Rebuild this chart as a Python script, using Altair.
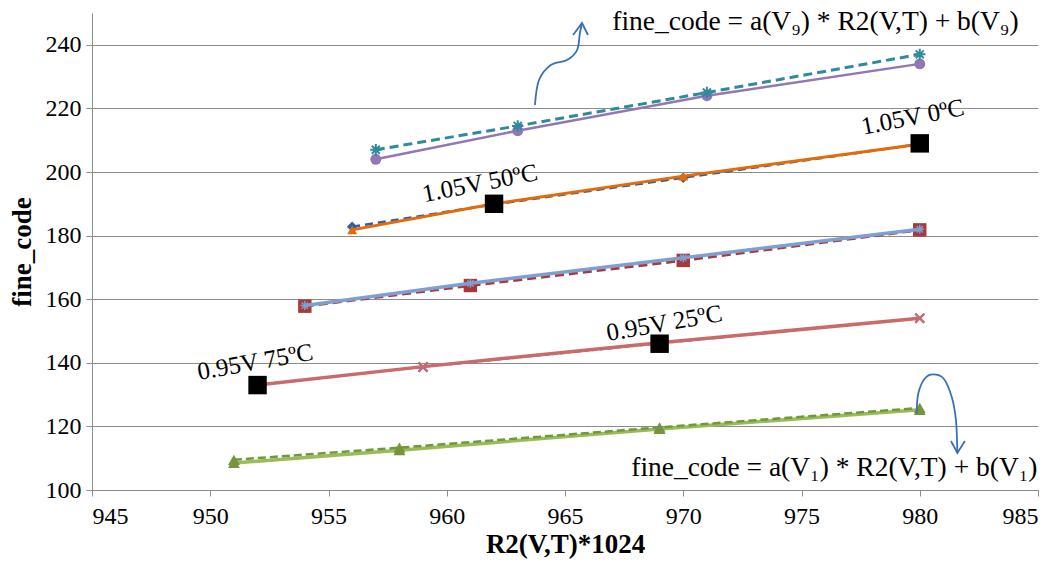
import altair as alt
import pandas as pd

# ---------------- data ----------------
X_TICKS = [945, 950, 955, 960, 965, 970, 975, 980, 985]
Y_TICKS = [100, 120, 140, 160, 180, 200, 220, 240]

x_v9 = [957, 963, 971, 980]
y_v9_dash = [207.0, 214.5, 225.0, 237.0]
y_v9_solid = [204.0, 213.0, 224.0, 234.0]

x_105 = [956, 962, 970, 980]
y_105_dash = [182.8, 189.8, 198.2, 208.8]
y_105_solid = [181.8, 190.0, 198.7, 208.7]

x_mid = [954, 961, 970, 980]
y_mid_dash = [157.8, 164.3, 172.2, 181.8]
y_mid_solid = [158.0, 165.0, 173.0, 182.0]

x_095 = [952, 959, 969, 980]
y_095_solid = [133.0, 138.8, 146.3, 154.0]
y_095_dash = [133.2, 138.6, 146.0, 154.0]

x_v1 = [951, 958, 969, 980]
y_v1_dash = [109.5, 113.3, 119.7, 125.8]
y_v1_solid = [108.5, 112.5, 119.2, 125.2]

cond_x = [952, 962, 969, 980]
cond_y = [133, 190, 146, 209]
cond_labels = ["0.95V 75ºC", "1.05V 50ºC", "0.95V 25ºC", "1.05V 0ºC"]
cond_label_x = [951.9, 961.4, 969.2, 979.7]
cond_label_y = [140.3, 196.5, 152.5, 217.3]

formula_top = "fine_code = a(V₉) * R2(V,T) + b(V₉)"
formula_bottom = "fine_code = a(V₁) * R2(V,T) + b(V₁)"
formula_x = [967.0, 967.8]
formula_y = [247.2, 106.9]

arrow1_x = [963.73, 963.90, 964.40, 965.08, 965.51, 965.63, 965.72]
arrow1_y = [221.07, 228.93, 233.65, 235.20, 238.36, 243.71, 246.86]
arrow1_head_x = [965.34, 965.72, 965.97]
arrow1_head_y = [243.08, 246.86, 243.08]

arrow2_x = [979.87, 979.94, 980.22, 980.57, 981.0, 981.35, 981.53, 981.59]
arrow2_y = [124.12, 130.41, 135.13, 136.38, 135.13, 129.34, 122.01, 111.64]
arrow2_head_x = [981.32, 981.59, 981.91]
arrow2_head_y = [115.41, 111.64, 115.41]

# ---------------- encodings ----------------
SERIF = "Liberation Serif"
GRAY = "#8c8c8c"

x_scale = alt.Scale(domain=[945, 985], nice=False, zero=False)
y_scale = alt.Scale(domain=[100, 250], nice=False, zero=False)

x_enc = alt.X("x:Q", scale=x_scale, axis=alt.Axis(
    title="R2(V,T)*1024", values=X_TICKS, grid=False, format="d",
    labelPadding=8, titlePadding=3))
y_enc = alt.Y("y:Q", scale=y_scale, axis=alt.Axis(
    title="fine_code", values=Y_TICKS, grid=True, format="d",
    labelPadding=5, titlePadding=9))

ASTERISK = "M-1,0L1,0M0,-1L0,1M-0.7,-0.7L0.7,0.7M-0.7,0.7L0.7,-0.7"
XMARK = "M-1,-1L1,1M-1,1L1,-1"


def df(xs, ys):
    return pd.DataFrame({"x": xs, "y": ys})


def series(xs, ys, color, width, dash=None, shape="circle", size=60,
           filled=True, mcolor=None, mwidth=2):
    d = df(xs, ys)
    line_kwargs = dict(color=color, strokeWidth=width)
    if dash:
        line_kwargs["strokeDash"] = dash
    line = alt.Chart(d).mark_line(**line_kwargs).encode(x=x_enc, y=y_enc)
    mc = mcolor or color
    if filled:
        pt = alt.Chart(d).mark_point(shape=shape, size=size, filled=True,
                                     color=mc, opacity=1)
    else:
        pt = alt.Chart(d).mark_point(shape=shape, size=size, filled=False,
                                     color=mc, strokeWidth=mwidth, opacity=1)
    pts = pt.encode(x=x_enc, y=y_enc)
    return [line, pts]


layers = []
# V9 group
layers += series(x_v9, y_v9_solid, "#9178b3", 2.5, shape="circle", size=120)
layers += series(x_v9, y_v9_dash, "#2e8a9c", 3, dash=[9, 5], shape=ASTERISK,
                 size=130, filled=False, mwidth=2)
# 1.05V group
layers += series(x_105, y_105_dash, "#2f5fa0", 2.5, dash=[8, 5],
                 shape="diamond", size=110)
layers += series(x_105, y_105_solid, "#e36c0a", 3, shape="triangle-up",
                 size=100)
# middle group
layers += series(x_mid, y_mid_dash, "#a8383a", 3, dash=[9, 5],
                 shape="square", size=180)
layers += series(x_mid, y_mid_solid, "#7f9fd0", 3.5, shape=ASTERISK, size=80,
                 filled=False, mwidth=1.5)
# 0.95V group
layers += series(x_095, y_095_dash, "#6a5aa8", 1.5, dash=[5, 3], shape=XMARK,
                 size=80, filled=False, mwidth=2)
layers += series(x_095, y_095_solid, "#c96b6b", 3.5, shape=XMARK, size=80,
                 filled=False, mwidth=2)
# V1 group
layers += series(x_v1, y_v1_solid, "#9bbb59", 3.5, shape="triangle-up",
                 size=140, mcolor="#77933c")
layers += series(x_v1, y_v1_dash, "#6e9a3a", 2.5, dash=[8, 4],
                 shape="triangle-up", size=140, mcolor="#77933c")

# condition markers (black squares)
cond_df = pd.DataFrame({"x": cond_x, "y": cond_y})
layers.append(alt.Chart(cond_df).mark_square(size=340, color="black",
                                               opacity=1).encode(x=x_enc, y=y_enc))

# condition labels (slanted)
angles = [350, 349, 350, 349]
for lx, ly, txt, ang in zip(cond_label_x, cond_label_y, cond_labels, angles):
    layers.append(alt.Chart(pd.DataFrame({"x": [lx], "y": [ly], "t": [txt]}))
                  .mark_text(font=SERIF, fontSize=25, angle=ang, color="black",
                             align="center", baseline="middle")
                  .encode(x=x_enc, y=y_enc, text="t:N"))

# formulas
for fx, fy, txt in zip(formula_x, formula_y, [formula_top, formula_bottom]):
    layers.append(alt.Chart(pd.DataFrame({"x": [fx], "y": [fy], "t": [txt]}))
                  .mark_text(font=SERIF, fontSize=27.5, color="black",
                             align="left", baseline="middle")
                  .encode(x=x_enc, y=y_enc, text="t:N"))

# arrows
ARROW_COLOR = "#3a70b8"
for axs, ays in [(arrow1_x, arrow1_y), (arrow2_x, arrow2_y)]:
    d = pd.DataFrame({"x": axs, "y": ays, "i": list(range(len(axs)))})
    layers.append(alt.Chart(d).mark_line(interpolate="cardinal",
                                         color=ARROW_COLOR, strokeWidth=1.8)
                  .encode(x=x_enc, y=y_enc, order="i:Q"))
for hxs, hys in [(arrow1_head_x, arrow1_head_y), (arrow2_head_x, arrow2_head_y)]:
    d = pd.DataFrame({"x": hxs, "y": hys, "i": list(range(len(hxs)))})
    layers.append(alt.Chart(d).mark_line(color=ARROW_COLOR, strokeWidth=1.8)
                  .encode(x=x_enc, y=y_enc, order="i:Q"))

chart = alt.layer(*layers).properties(
    width=946, height=477,
    autosize=alt.AutoSizeParams(type="none"),
    padding={"left": 92, "top": 13, "right": 20, "bottom": 79},
    background="white",
).configure_view(stroke=None).configure_axis(
    labelFont=SERIF, labelFontSize=24, labelColor="black",
    titleFont=SERIF, titleFontSize=27, titleFontWeight="bold",
    titleColor="black", tickSize=6, tickColor=GRAY, domainColor=GRAY,
    gridColor=GRAY, gridWidth=1, gridOpacity=1,
)

chart.save("out.html", embed_options={"renderer": "svg", "actions": False})
